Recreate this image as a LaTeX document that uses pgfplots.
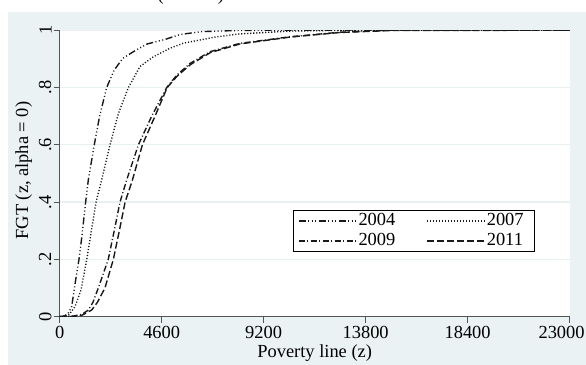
\documentclass[border=0pt]{standalone}
\usepackage{fontspec}
\setmainfont{Liberation Serif}
\usepackage{pgfplots}
\pgfplotsset{compat=1.18}

\definecolor{bgfill}{RGB}{234,242,243}
\definecolor{gridc}{RGB}{232,240,242}
\definecolor{axisc}{RGB}{85,85,85}
\definecolor{linec}{RGB}{25,25,25}

\begin{document}
\fontsize{18.5}{22}\selectfont
\begin{tikzpicture}
  \useasboundingbox (0bp,0bp) rectangle (586bp,365bp);
  \fill[bgfill] (7.5bp,0bp) rectangle (586bp,353bp);
  % title line, only its lowest part falls on the page
  \node[anchor=base west, inner sep=0pt] at (157.5bp,364.3bp) {(\hspace{54bp})};
  \begin{axis}[
    at={(59.7bp,48.3bp)}, anchor=south west,
    scale only axis, width=509.9bp, height=286.5bp,
    xmin=0, xmax=23000, ymin=0, ymax=1,
    axis background/.style={fill=white},
    axis x line*=bottom, axis y line*=left,
    axis line style={axisc, line width=0.9bp, -},
    tick style={axisc, line width=0.9bp},
    tick align=outside, major tick length=6bp,
    scaled x ticks=false, scaled y ticks=false,
    xtick={0,4600,9200,13800,18400,23000},
    xticklabels={0,4600,9200,13800,18400,\hspace*{-16bp}23000},
    ytick={0,0.2,0.4,0.6,0.8,1},
    yticklabels={0,.2,.4,.6,.8,1},
    yticklabel style={rotate=90, anchor=south, inner sep=2bp},
    xticklabel style={inner sep=2bp, yshift=-1bp},
    ymajorgrids, grid style={gridc, line width=1.2bp},
    /pgf/number format/assume math mode=true,
    xlabel={Poverty line (z)},
    ylabel={FGT (z, alpha = 0)},
    xlabel style={at={(axis description cs:0.5,-0.144)}, anchor=base},
    ylabel style={at={(axis description cs:-0.062,0.51)}, anchor=base},
    legend image code/.code={\draw[#1] (0bp,0bp) -- (58bp,0bp);},
    legend columns=2,
    legend cell align=left,
    legend style={at={(0.457,0.372)}, anchor=north west,
      draw=black, line width=0.8bp, fill=white,
      inner xsep=5bp, inner ysep=2bp, row sep=3bp,
      nodes={text height=12bp, text depth=3bp, inner sep=1bp},
      /tikz/every even column/.append style={column sep=30bp}},
  ]
    \addplot[linec, line width=1.4bp, dash pattern=on 7bp off 2.5bp on 1bp off 2.5bp on 1bp off 2.5bp on 1bp off 2.5bp]
      coordinates {
        (0,0) (200,0.002) (370,0.01) (540,0.035) (720,0.128) (870,0.2)
        (1000,0.28) (1170,0.4) (1290,0.477) (1560,0.6) (1800,0.7) (2120,0.8)
        (2450,0.86) (2850,0.902) (3450,0.931) (3950,0.952) (4760,0.968)
        (5430,0.985) (6400,0.995) (8000,0.999) (10000,1) (23000,1)};
    \addlegendentry{2004\hspace{6bp}}
    \addplot[linec, line width=1.4bp, dash pattern=on 1.1bp off 1.9bp]
      coordinates {
        (0,0) (400,0.005) (690,0.035) (960,0.093) (1220,0.2) (1430,0.3)
        (1640,0.4) (1890,0.477) (2270,0.6) (2650,0.71) (3100,0.8)
        (3620,0.873) (4220,0.907) (5000,0.938) (5600,0.955) (7080,0.977)
        (8130,0.987) (10390,0.997) (13000,1) (23000,1)};
    \addlegendentry{2007\hspace*{5bp}}
    \addplot[linec, line width=1.4bp, dash pattern=on 6bp off 2.5bp on 1bp off 2.5bp]
      coordinates {
        (0,0) (600,0.002) (1000,0.008) (1290,0.023) (1500,0.05) (1740,0.1)
        (2190,0.2) (2460,0.3) (2720,0.4) (3020,0.477) (3550,0.6) (4150,0.7)
        (4830,0.8) (5280,0.843) (5880,0.884) (6780,0.925) (8130,0.954)
        (10390,0.977) (12650,0.993) (14900,1) (23000,1)};
    \addlegendentry{2009}
    \addplot[linec, line width=1.4bp, dash pattern=on 7bp off 3bp]
      coordinates {
        (0,0) (600,0.001) (1000,0.005) (1440,0.023) (1700,0.05) (2040,0.1)
        (2420,0.2) (2690,0.3) (2950,0.4) (3280,0.477) (3730,0.6) (4300,0.7)
        (4850,0.8) (5300,0.84) (5900,0.88) (6800,0.922) (8130,0.952)
        (10390,0.976) (12650,0.992) (15000,0.999) (23000,1)};
    \addlegendentry{2011}
  \end{axis}
\end{tikzpicture}
\end{document}
